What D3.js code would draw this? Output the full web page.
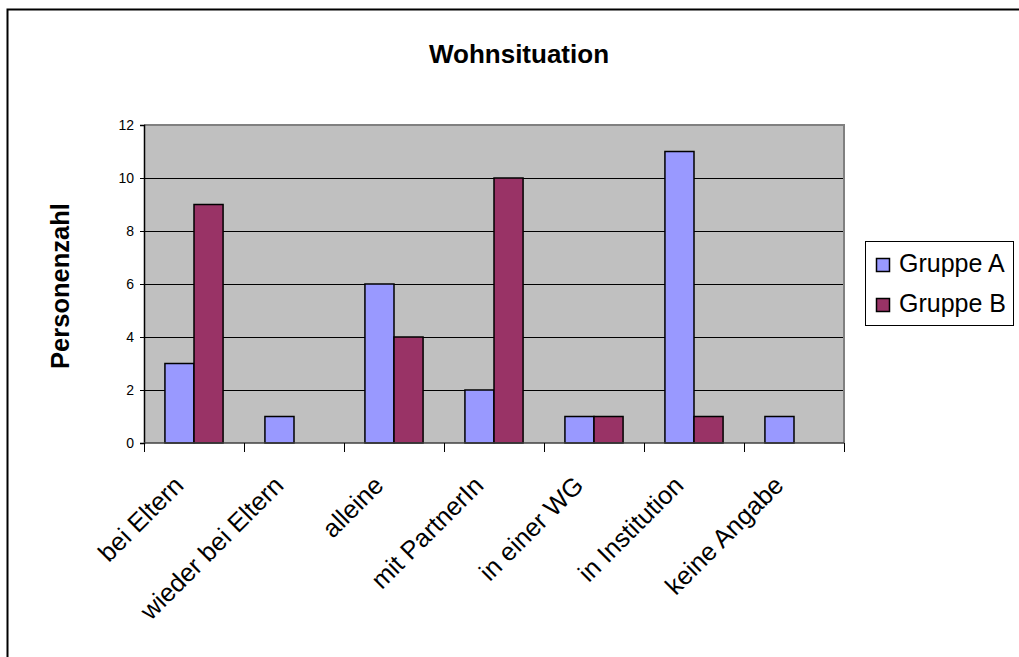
<!DOCTYPE html>
<html>
<head>
<meta charset="utf-8">
<script src="https://cdn.jsdelivr.net/npm/d3@7"></script>
<style>
  html, body { margin: 0; padding: 0; background: #fff; }
  svg { display: block; font-family: Arial, "Liberation Sans", sans-serif; }
</style>
</head>
<body>
<svg id="chart" width="1019" height="657"></svg>
<script>
// Wohnsituation: number of persons per living arrangement, two groups
const categories = ["bei Eltern", "wieder bei Eltern", "alleine", "mit PartnerIn", "in einer WG", "in Institution", "keine Angabe"];
const seriesNames = ["Gruppe A", "Gruppe B"];
const gruppeA = [3, 1, 6, 2, 1, 11, 1];
const gruppeB = [9, 0, 4, 10, 1, 1, 0];
const yTicks = [0, 2, 4, 6, 8, 10, 12];
const seriesColors = ["#9999FF", "#993366"];

const svg = d3.select("#chart");

// outer chart frame (runs past the right and bottom edges)
svg.append("rect")
  .attr("x", 7.5).attr("y", 9.5)
  .attr("width", 1200).attr("height", 900)
  .attr("fill", "#fff").attr("stroke", "#000").attr("stroke-width", 2);

const plot = { left: 144, right: 844, top: 125, bottom: 443 };

const x0 = d3.scaleBand().domain(categories).range([plot.left, plot.right]).paddingInner(0).paddingOuter(0);
const x1 = d3.scaleBand().domain(seriesNames).range([0, x0.bandwidth()]).paddingInner(0).paddingOuter(0.72);
const y = d3.scaleLinear().domain([0, 12]).range([plot.bottom, plot.top]);

// plot background
svg.append("rect")
  .attr("x", plot.left).attr("y", plot.top)
  .attr("width", plot.right - plot.left).attr("height", plot.bottom - plot.top)
  .attr("fill", "#C0C0C0");

// horizontal gridlines
svg.append("g")
  .selectAll("line")
  .data(yTicks.filter(v => v > 0 && v < 12))
  .join("line")
  .attr("x1", plot.left).attr("x2", plot.right)
  .attr("y1", d => Math.round(y(d)) + 0.5).attr("y2", d => Math.round(y(d)) + 0.5)
  .attr("stroke", "#000").attr("stroke-width", 1);

// plot area border (top and right)
svg.append("path")
  .attr("d", `M${plot.left},${plot.top} H${plot.right} V${plot.bottom}`)
  .attr("fill", "none").attr("stroke", "#808080").attr("stroke-width", 2);

// bars
const rows = categories.map((c, i) => ({ cat: c, values: [gruppeA[i], gruppeB[i]] }));
const groups = svg.append("g")
  .selectAll("g")
  .data(rows)
  .join("g")
  .attr("transform", d => `translate(${x0(d.cat)},0)`);

groups.selectAll("rect")
  .data(d => d.values.map((v, k) => ({ name: seriesNames[k], value: v, color: seriesColors[k] })).filter(e => e.value > 0))
  .join("rect")
  .attr("x", d => x1(d.name))
  .attr("y", d => y(d.value))
  .attr("width", x1.bandwidth())
  .attr("height", d => y(0) - y(d.value))
  .attr("fill", d => d.color)
  .attr("stroke", "#000")
  .attr("stroke-width", 1.5);

// y axis
const yAxis = d3.axisLeft(y).tickValues(yTicks).tickSize(4).tickPadding(6);
const gy = svg.append("g")
  .attr("transform", `translate(${plot.left},0)`)
  .call(yAxis);
gy.select(".domain").attr("stroke", "#000").attr("stroke-width", 1.5);
gy.selectAll(".tick line").attr("stroke", "#000");
gy.selectAll(".tick text")
  .attr("font-size", 14)
  .attr("font-family", "Arial, 'Liberation Sans', sans-serif")
  .attr("fill", "#000");

// x axis: ticks at category boundaries
const boundaries = categories.map(c => x0(c)).concat([plot.right]);
svg.append("line")
  .attr("x1", plot.left).attr("x2", plot.right)
  .attr("y1", plot.bottom).attr("y2", plot.bottom)
  .attr("stroke", "#404040").attr("stroke-width", 1.5);
svg.append("g")
  .selectAll("line")
  .data(boundaries)
  .join("line")
  .attr("x1", d => d + 0.5).attr("x2", d => d + 0.5)
  .attr("y1", plot.bottom).attr("y2", plot.bottom + 9)
  .attr("stroke", "#000").attr("stroke-width", 1);

// rotated category labels
svg.append("g")
  .selectAll("text")
  .data(categories)
  .join("text")
  .attr("transform", d => `translate(${x0(d) + x0.bandwidth() / 2 - 9},${plot.bottom + 44}) rotate(-45)`)
  .attr("text-anchor", "end")
  .attr("font-size", 25.5)
  .attr("fill", "#000")
  .text(d => d);

// title
svg.append("text")
  .attr("x", 519).attr("y", 63)
  .attr("text-anchor", "middle")
  .attr("font-size", 26)
  .attr("font-weight", "bold")
  .text("Wohnsituation");

// y axis title
svg.append("text")
  .attr("transform", `translate(69,286) rotate(-90)`)
  .attr("text-anchor", "middle")
  .attr("font-size", 25.5)
  .attr("font-weight", "bold")
  .text("Personenzahl");

// legend
const legend = svg.append("g");
legend.append("rect")
  .attr("x", 865.5).attr("y", 241.5)
  .attr("width", 148).attr("height", 84)
  .attr("fill", "#fff").attr("stroke", "#000").attr("stroke-width", 1);
const items = legend.selectAll("g.item")
  .data(seriesNames)
  .join("g")
  .attr("class", "item")
  .attr("transform", (d, i) => `translate(0,${i * 40})`);
items.append("rect")
  .attr("x", 876.5).attr("y", 258.5)
  .attr("width", 13).attr("height", 13)
  .attr("fill", (d, i) => seriesColors[i])
  .attr("stroke", "#000").attr("stroke-width", 1.5);
items.append("text")
  .attr("x", 899).attr("y", 272)
  .attr("font-size", 25)
  .attr("fill", "#000")
  .text(d => d);
</script>
</body>
</html>
